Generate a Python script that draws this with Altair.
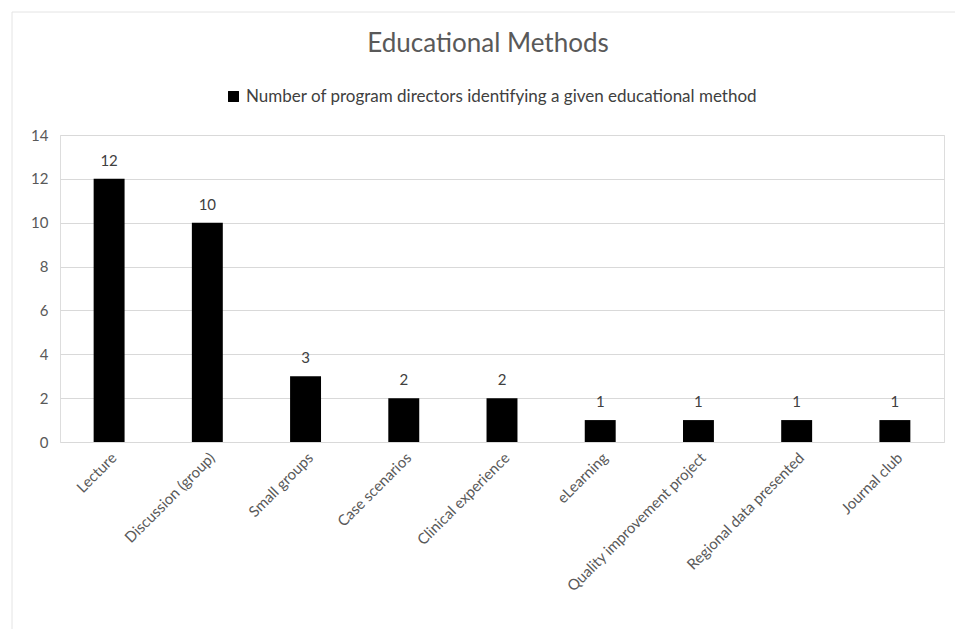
import altair as alt
import pandas as pd

methods = ["Lecture", "Discussion (group)", "Small groups", "Case scenarios",
           "Clinical experience", "eLearning", "Quality improvement project",
           "Regional data presented", "Journal club"]
counts = [12, 10, 3, 2, 2, 1, 1, 1, 1]
series_name = "Number of program directors identifying a given educational method"

df = pd.DataFrame({"method": methods, "count": counts, "series": [series_name] * len(methods)})

FONT = "Lato"
GRAY = "#595959"

x = alt.X("method:N", sort=methods, title=None,
          scale=alt.Scale(paddingInner=0.685, paddingOuter=0.3425),
          axis=alt.Axis(labelAngle=-45, labelColor=GRAY, labelFontSize=15, labelFont=FONT,
                        ticks=False, domain=False, labelPadding=8, labelLimit=400))

bars = alt.Chart(df).mark_bar(color="black").encode(
    x=x,
    y=alt.Y("count:Q", title=None,
            scale=alt.Scale(domain=[0, 14]),
            axis=alt.Axis(values=[0, 2, 4, 6, 8, 10, 12, 14], labelColor=GRAY, labelFontSize=15,
                          labelFont=FONT, ticks=False, domain=False, labelPadding=12,
                          gridColor="#d9d9d9", gridWidth=1)),
    color=alt.Color("series:N", scale=alt.Scale(range=["black"]),
                    legend=alt.Legend(title=None, orient="none", legendX=165, legendY=-47,
                                      symbolType="square", symbolSize=120, labelFontSize=17,
                                      labelFont=FONT, labelColor="#404040", labelLimit=800,
                                      symbolStrokeWidth=0))
)

labels = alt.Chart(df).mark_text(dy=-18, fontSize=15, font=FONT, color="#404040").encode(
    x=alt.X("method:N", sort=methods),
    y="count:Q",
    text="count:Q"
)

frame = alt.Chart(df).mark_rect(fill=None, stroke="#e4e4e4", strokeWidth=1).encode(
    x=alt.value(-48), x2=alt.value(910), y=alt.value(-123), y2=alt.value(500)
).transform_filter(alt.datum.method == methods[0])

chart = alt.layer(frame, bars, labels).properties(
    width=884, height=307,
    title=alt.TitleParams("Educational Methods", fontSize=26, font=FONT, fontWeight="normal",
                          color=GRAY, anchor="middle", offset=-45, dx=-14),
    autosize=alt.AutoSizeParams(type="none"),
    padding={"left": 60, "top": 135, "right": 11, "bottom": 187}
).configure_view(stroke=None).configure(background="white")

chart.save("out.html", embed_options={"renderer": "svg", "actions": False})
